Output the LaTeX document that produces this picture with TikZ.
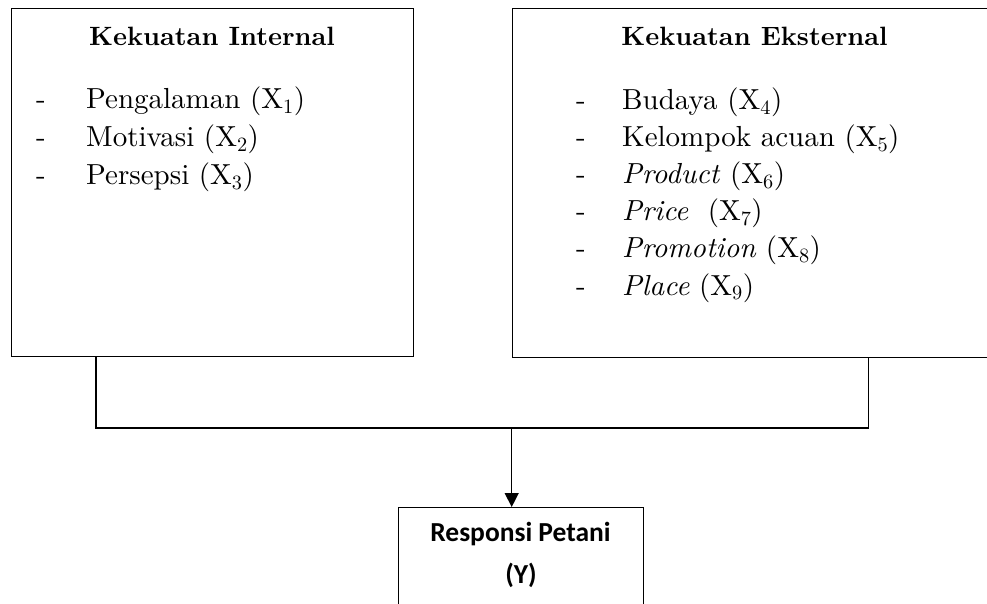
\documentclass[tikz,border=0pt]{standalone}
\usepackage{fontspec}
\setmainfont{lmroman10-regular.otf}[BoldFont=lmroman10-bold.otf, ItalicFont=lmroman10-italic.otf, BoldItalicFont=lmroman10-bolditalic.otf]
\newfontfamily\calibri{Carlito}
\usetikzlibrary{positioning}
\usetikzlibrary{arrows.meta}
\tikzset{
    kotak/.style = {draw=black, line width=1.3pt, inner sep=0pt, anchor=north west},
    judul/.style = {anchor=base, inner sep=0pt, font=\fontsize{26.5}{32}\selectfont\bfseries},
    strip/.style = {anchor=base west, inner sep=0pt, font=\fontsize{29}{34}\selectfont},
    item/.style = {anchor=base west, inner sep=0pt, font=\fontsize{29}{34}\selectfont},
    hasil/.style = {anchor=base, inner sep=0pt, font=\calibri\fontsize{27.5}{33}\selectfont\bfseries},
    edgen/.style = {-, line width=1.3pt, black},
    panah/.style = {-{Triangle[length=14pt,width=14pt]}, line width=1.3pt, black}
}

\begin{document}
\begin{tikzpicture}[x=1pt, y=-1pt]
  \useasboundingbox (0,0) rectangle (987,603);
  \clip (0,0) rectangle (987,603);
  % kotak
  \node[kotak, minimum width=402pt, minimum height=348pt] (internal) at (11,8) {};
  \node[kotak, minimum width=485pt, minimum height=349pt] (eksternal) at (512,7.5) {};
  \node[kotak, minimum width=245pt, minimum height=130pt] (responsi) at (398,507) {};
  % kekuatan internal
  \node[judul] (ji) at (212,45.5) {Kekuatan Internal};
  \node[strip] (s1) at (36,108.5) {-};
  \node[item] (x1) at (86,108.5) {Pengalaman (X\textsubscript{1})};
  \node[strip] (s2) at (36,146.5) {-};
  \node[item] (x2) at (86,146.5) {Motivasi (X\textsubscript{2})};
  \node[strip] (s3) at (36,184.5) {-};
  \node[item] (x3) at (86,184.5) {Persepsi (X\textsubscript{3})};
  % kekuatan eksternal
  \node[judul] (je) at (754.5,45) {Kekuatan Eksternal};
  \node[strip] (s4) at (576,109) {-};
  \node[item] (x4) at (622,109) {Budaya (X\textsubscript{4})};
  \node[strip] (s5) at (576,146.2) {-};
  \node[item] (x5) at (622,146.2) {Kelompok acuan (X\textsubscript{5})};
  \node[strip] (s6) at (576,183.4) {-};
  \node[item] (x6) at (622,183.4) {\textit{Product} (X\textsubscript{6})};
  \node[strip] (s7) at (576,220.6) {-};
  \node[item] (x7) at (622,220.6) {\textit{Price}\ \ (X\textsubscript{7})};
  \node[strip] (s8) at (576,257.8) {-};
  \node[item] (x8) at (622,257.8) {\textit{Promotion} (X\textsubscript{8})};
  \node[strip] (s9) at (576,295) {-};
  \node[item] (x9) at (622,295) {\textit{Place} (X\textsubscript{9})};
  % responsi petani
  \node[hasil] (rp) at (520.5,541.7) {Responsi Petani};
  \node[hasil] (ry) at (521,583) {(Y)};
  % garis
  \coordinate (kiri) at (96,428);
  \coordinate (kanan) at (868.5,428);
  \coordinate (tengah) at (511.7,428);
  \draw[edgen] (kiri |- internal.south) -- (kiri) -- (kanan) -- (kanan |- eksternal.south);
  \draw[panah] (tengah) -- (tengah |- responsi.north);
\end{tikzpicture}
\end{document}
